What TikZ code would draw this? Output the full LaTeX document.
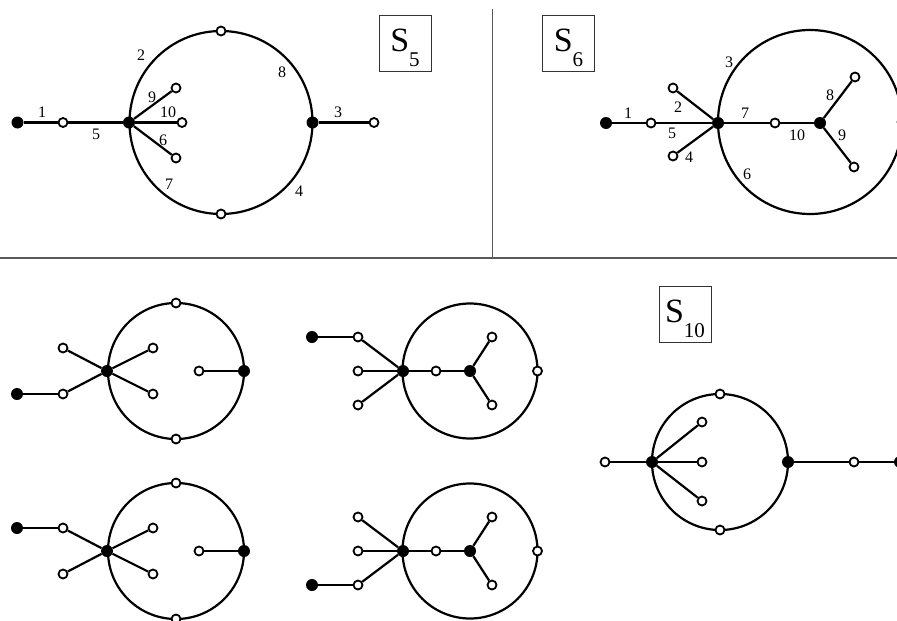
\documentclass[tikz,border=0pt]{standalone}
\usepackage{fontspec}
\setmainfont{Liberation Serif}
\tikzset{
  blk/.style={circle,fill=black,inner sep=0pt,minimum size=12pt},
  wht/.style={circle,draw=black,fill=white,line width=1.8pt,inner sep=0pt,minimum size=9pt},
  edge/.style={line width=2.2pt},
  ring/.style={line width=2.2pt},
  sep/.style={line width=1.3pt,black!65},
  num/.style={inner sep=0pt,font=\fontsize{16}{16}\selectfont},
  sbox/.style={draw,line width=1pt,black!80,text=black,inner sep=0pt,
    minimum width=52pt,minimum height=56pt,text height=32pt,text depth=15pt}
}
\newcommand{\sname}[1]{{\fontsize{34}{34}\selectfont S}\raisebox{-15pt}{\fontsize{21}{21}\selectfont #1}}
\begin{document}
\begin{tikzpicture}[x=1pt,y=-1pt]
\useasboundingbox (0,0) rectangle (897,621);
% frame lines
\draw[sep] (0,258) -- (897,258);
\draw[sep] (492.3,9) -- (492.3,258);
% titles
\node[sbox] (s5) at (405,43) {\sname{5}};
\node[sbox] (s6) at (568.5,43) {\sname{6}};
\node[sbox] (s10) at (685,314) {\sname{10}};
% S5 graph
\draw[ring] (221,122.5) circle (91.5);
\node[blk] (p-f) at (17.5,122.5) {};
\node[wht] (p-o) at (63,122.5) {};
\node[blk] (p-h) at (129,122.5) {};
\node[wht] (p-t) at (221,31) {};
\node[wht] (p-b) at (221,214) {};
\node[blk] (p-r) at (312.5,122.5) {};
\node[wht] (p-e) at (374,122.5) {};
\node[wht] (p-s1) at (176,88) {};
\node[wht] (p-s2) at (182,122.5) {};
\node[wht] (p-s3) at (176,158) {};
\draw[edge] (p-f) -- (p-o) -- (p-h);
\foreach \s in {1,2,3}
  \draw[edge] (p-h) -- (p-s\s);
\draw[edge] (p-r) -- (p-e);
\foreach \t/\x/\y in {1/42/112, 5/96/134, 2/141/55, 8/282/72, 9/152/97,
  10/168/112, 6/163/140, 7/169/184, 4/299/191, 3/338/112}
  \node[num] (p-n\t) at (\x,\y) {\t};
% S6 graph
\draw[ring] (810,122) circle (92);
\node[wht] (q-e) at (902,122) {};
\node[blk] (q-f) at (606,123) {};
\node[wht] (q-o) at (651,123) {};
\node[blk] (q-h) at (718,123) {};
\node[wht] (q-ul) at (673,88) {};
\node[wht] (q-ll) at (673,156) {};
\node[wht] (q-m) at (775,123) {};
\node[blk] (q-c) at (820,123) {};
\node[wht] (q-y1) at (855,77) {};
\node[wht] (q-y2) at (854,167) {};
\draw[edge] (q-f) -- (q-o) -- (q-h) -- (q-m) -- (q-c);
\draw[edge] (q-ul) -- (q-h) -- (q-ll);
\draw[edge] (q-y1) -- (q-c) -- (q-y2);
\foreach \t/\x/\y in {1/628/113, 5/672/133, 2/678/107, 4/689/157, 3/729/62,
  7/745/113, 10/797/135, 8/830/95, 9/842/135, 6/747/174}
  \node[num] (q-n\t) at (\x,\y) {\t};
% left column of the lower half
\foreach \g/\dy/\fy/\fl in {a/0/394/ll, b/180/348/ul}{
\begin{scope}[shift={(0,\dy)}]
  \draw[ring] (176,371) circle (68);
  \node[blk] (\g-h) at (107,371) {};
  \node[wht] (\g-ul) at (63,348) {};
  \node[wht] (\g-ll) at (63,394) {};
  \node[wht] (\g-ur) at (153,348) {};
  \node[wht] (\g-lr) at (153,394) {};
  \node[wht] (\g-o) at (199,371) {};
  \node[blk] (\g-r) at (244,371) {};
  \node[wht] (\g-t) at (176,303) {};
  \node[wht] (\g-b) at (176,439) {};
  \node[blk] (\g-f) at (17,\fy) {};
  \foreach \s in {ul,ll,ur,lr}
    \draw[edge] (\g-h) -- (\g-\s);
  \draw[edge] (\g-o) -- (\g-r);
  \draw[edge] (\g-f) -- (\g-\fl);
\end{scope}
}
% right column of the lower half
\foreach \g/\dy/\fy/\fl in {c/0/337/ul, d/180/405/ll}{
\begin{scope}[shift={(0,\dy)}]
  \draw[ring] (470,371) circle (67.5);
  \node[blk] (\g-h) at (403,371) {};
  \node[wht] (\g-ul) at (358,337) {};
  \node[wht] (\g-ml) at (358,371) {};
  \node[wht] (\g-ll) at (358,405) {};
  \node[wht] (\g-o) at (436,371) {};
  \node[blk] (\g-c) at (470,371) {};
  \node[wht] (\g-y1) at (492,337) {};
  \node[wht] (\g-y2) at (492,405) {};
  \node[wht] (\g-r) at (537.5,371) {};
  \node[blk] (\g-f) at (312,\fy) {};
  \foreach \s in {ul,ml,ll}
    \draw[edge] (\g-h) -- (\g-\s);
  \draw[edge] (\g-h) -- (\g-o) -- (\g-c);
  \draw[edge] (\g-y1) -- (\g-c) -- (\g-y2);
  \draw[edge] (\g-f) -- (\g-\fl);
\end{scope}
}
% S10 graph
\draw[ring] (720,462) circle (68);
\node[wht] (t-l) at (605,462) {};
\node[blk] (t-h) at (652,462) {};
\node[wht] (t-s1) at (702,422) {};
\node[wht] (t-s2) at (702,462) {};
\node[wht] (t-s3) at (702,501) {};
\node[wht] (t-t) at (720,394) {};
\node[wht] (t-b) at (720,530) {};
\node[blk] (t-r) at (788,462) {};
\node[wht] (t-o) at (854,462) {};
\node[blk] (t-e) at (900,462) {};
\draw[edge] (t-l) -- (t-h);
\foreach \s in {1,2,3}
  \draw[edge] (t-h) -- (t-s\s);
\draw[edge] (t-r) -- (t-o) -- (t-e);
\end{tikzpicture}
\end{document}
